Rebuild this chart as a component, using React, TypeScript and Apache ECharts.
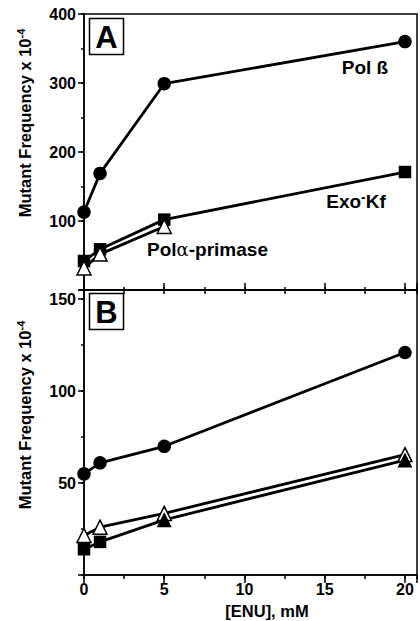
import React, { useEffect, useRef } from "react";
import * as echarts from "echarts";

// ---- Data ----
const doseMM = [0, 1, 5, 20];
const doseAlphaA = [0, 1, 5];

// Panel A
const panelA_PolBeta = [113, 169, 299, 360];
const panelA_ExoKf = [42, 59, 102, 171];
const panelA_PolAlpha = [32, 52, 92];

// Panel B
const panelB_PolBeta = [55, 61, 70, 121];
const panelB_OpenTri = [21.5, 26, 33.5, 65.5];
const panelB_Filled = [14, 18, 30, 62.5];
const panelB_FilledSymbols = ["rect", "rect", "triangle", "triangle"];

// Axis ticks
const xTicks = [0, 5, 10, 15, 20];
const yTicksA = [100, 200, 300, 400];
const yTicksB = [50, 100, 150];

const FONT = "Liberation Sans, Arial, Helvetica, sans-serif";

const pairs = (xs: number[], ys: number[]) => xs.map((x, i) => [x, ys[i]]);

export default function App() {
  const ref = useRef<HTMLDivElement>(null);

  useEffect(() => {
    if (!ref.current) return;
    const chart = echarts.init(ref.current, undefined, { renderer: "svg" });

    const lineW = 1.5;
    const labelStyle = {
      fontFamily: FONT,
      fontWeight: "bold" as const,
      fontSize: 16,
      color: "#000",
    };

    const xBase = (grid: number, position: string) => ({
      type: "value",
      gridIndex: grid,
      position,
      min: 0,
      max: 20.75,
      splitLine: { show: false },
      axisLine: { show: true, onZero: false, lineStyle: { color: "#000", width: lineW } },
    });
    const yBase = (grid: number, max: number) => ({
      type: "value",
      gridIndex: grid,
      position: "left",
      min: 0,
      max,
      splitLine: { show: false },
      axisLine: { show: true, onZero: false, lineStyle: { color: "#000", width: lineW } },
    });

    const seriesCommon = {
      type: "line",
      clip: false,
      lineStyle: { color: "#000", width: 2.8 },
      itemStyle: { color: "#000" },
      emphasis: { disabled: true },
    };

    const titleRich = {
      m: { fontFamily: FONT, fontWeight: "bold", fontSize: 16.5, lineHeight: 20, fill: "#000" },
      s: { fontFamily: FONT, fontWeight: "bold", fontSize: 11, verticalAlign: "top", lineHeight: 20, fill: "#000" },
    };

    const option: any = {
      animation: false,
      backgroundColor: "#fff",
      grid: [
        { left: 84, top: 14, width: 333, height: 276, show: true, borderColor: "#000", borderWidth: lineW, backgroundColor: "transparent" },
        { left: 84, top: 290, width: 333, height: 285, show: true, borderColor: "#000", borderWidth: lineW, backgroundColor: "transparent" },
      ],
      xAxis: [
        {
          ...xBase(0, "bottom"),
          interval: 5,
          axisTick: { show: true, inside: true, length: 7, lineStyle: { color: "#000", width: lineW } },
          axisLabel: { show: false },
        },
        {
          ...xBase(0, "bottom"),
          interval: 2.5,
          axisLine: { show: false, onZero: false },
          axisTick: { show: true, inside: true, length: 3, lineStyle: { color: "#000", width: lineW } },
          axisLabel: { show: false },
        },
        {
          ...xBase(1, "top"),
          interval: 2.5,
          axisTick: { show: true, inside: true, length: 4, lineStyle: { color: "#000", width: lineW } },
          axisLabel: { show: false },
        },
        {
          ...xBase(1, "bottom"),
          interval: 5,
          axisTick: { show: true, inside: false, length: 8, lineStyle: { color: "#000", width: lineW } },
          axisLabel: {
            ...labelStyle,
            margin: 6,
            formatter: (v: number) => (xTicks.includes(v) ? String(v) : ""),
          },
        },
        {
          ...xBase(1, "bottom"),
          interval: 2.5,
          axisLine: { show: false, onZero: false },
          axisTick: { show: true, inside: false, length: 4, lineStyle: { color: "#000", width: lineW } },
          axisLabel: { show: false },
        },
      ],
      yAxis: [
        {
          ...yBase(0, 400),
          interval: 100,
          axisTick: { show: true, inside: false, length: 6, lineStyle: { color: "#000", width: lineW } },
          axisLabel: {
            ...labelStyle,
            margin: 8,
            formatter: (v: number) => (yTicksA.includes(v) ? String(v) : ""),
          },
        },
        {
          ...yBase(0, 400),
          interval: 50,
          axisLine: { show: false, onZero: false },
          axisTick: { show: true, inside: false, length: 3, lineStyle: { color: "#000", width: lineW } },
          axisLabel: { show: false },
        },
        {
          ...yBase(1, 155),
          interval: 50,
          axisTick: { show: true, inside: false, length: 6, lineStyle: { color: "#000", width: lineW } },
          axisLabel: {
            ...labelStyle,
            margin: 8,
            formatter: (v: number) => (yTicksB.includes(v) ? String(v) : ""),
          },
        },
        {
          ...yBase(1, 155),
          interval: 25,
          axisLine: { show: false, onZero: false },
          axisTick: { show: true, inside: false, length: 3, lineStyle: { color: "#000", width: lineW } },
          axisLabel: { show: false },
        },
      ],
      series: [
        {
          ...seriesCommon,
          name: "Pol β A",
          xAxisIndex: 0,
          yAxisIndex: 0,
          symbol: "circle",
          symbolSize: 13.5,
          data: pairs(doseMM, panelA_PolBeta),
        },
        {
          ...seriesCommon,
          name: "Exo-Kf A",
          xAxisIndex: 0,
          yAxisIndex: 0,
          symbol: "rect",
          symbolSize: 12.5,
          data: pairs(doseMM, panelA_ExoKf),
        },
        {
          ...seriesCommon,
          name: "Pol alpha A",
          xAxisIndex: 0,
          yAxisIndex: 0,
          symbol: "triangle",
          symbolSize: 14,
          itemStyle: { color: "#fff", borderColor: "#000", borderWidth: 1.5 },
          data: pairs(doseAlphaA, panelA_PolAlpha),
        },
        {
          ...seriesCommon,
          name: "Pol β B",
          xAxisIndex: 3,
          yAxisIndex: 2,
          symbol: "circle",
          symbolSize: 13.5,
          data: pairs(doseMM, panelB_PolBeta),
        },
        {
          ...seriesCommon,
          name: "Open tri B",
          xAxisIndex: 3,
          yAxisIndex: 2,
          symbol: "triangle",
          symbolSize: 14,
          itemStyle: { color: "#fff", borderColor: "#000", borderWidth: 1.5 },
          data: pairs(doseMM, panelB_OpenTri),
        },
        {
          ...seriesCommon,
          name: "Filled B",
          xAxisIndex: 3,
          yAxisIndex: 2,
          symbolSize: 12.5,
          data: doseMM.map((x, i) => ({
            value: [x, panelB_Filled[i]],
            symbol: panelB_FilledSymbols[i],
            symbolSize: panelB_FilledSymbols[i] === "triangle" ? 15 : 12.5,
          })),
        },
      ],
      graphic: [
        {
          type: "text",
          x: 25,
          y: 123,
          rotation: Math.PI / 2,
          style: {
            text: "{m|Mutant Frequency x 10}{s|-4}",
            align: "center",
            verticalAlign: "middle",
            fill: "#000",
            rich: titleRich,
          },
        },
        {
          type: "text",
          x: 25,
          y: 415,
          rotation: Math.PI / 2,
          style: {
            text: "{m|Mutant Frequency x 10}{s|-4}",
            align: "center",
            verticalAlign: "middle",
            fill: "#000",
            rich: titleRich,
          },
        },
        {
          type: "text",
          x: 267,
          y: 611,
          style: {
            text: "[ENU], mM",
            align: "center",
            verticalAlign: "middle",
            fontFamily: FONT,
            fontWeight: "bold",
            fontSize: 16.5,
            fill: "#000",
          },
        },
        {
          type: "rect",
          shape: { x: 89.5, y: 18.5, width: 34, height: 36 },
          style: { fill: "#fff", stroke: "#000", lineWidth: 1.5 },
          z: 10,
        },
        {
          type: "text",
          x: 106.5,
          y: 37,
          z: 11,
          style: {
            text: "A",
            align: "center",
            verticalAlign: "middle",
            fontFamily: FONT,
            fontWeight: "bold",
            fontSize: 31,
            fill: "#000",
          },
        },
        {
          type: "rect",
          shape: { x: 89.5, y: 293.5, width: 34, height: 36 },
          style: { fill: "#fff", stroke: "#000", lineWidth: 1.5 },
          z: 10,
        },
        {
          type: "text",
          x: 106.5,
          y: 312,
          z: 11,
          style: {
            text: "B",
            align: "center",
            verticalAlign: "middle",
            fontFamily: FONT,
            fontWeight: "bold",
            fontSize: 31,
            fill: "#000",
          },
        },
        {
          type: "text",
          x: 365,
          y: 67,
          style: {
            text: "Pol ß",
            align: "center",
            verticalAlign: "middle",
            fontFamily: FONT,
            fontWeight: "bold",
            fontSize: 19,
            fill: "#000",
          },
        },
        {
          type: "text",
          x: 356,
          y: 201,
          style: {
            text: "{m|Exo}{s|-}{m|Kf}",
            align: "center",
            verticalAlign: "middle",
            fill: "#000",
            rich: {
              m: { fontFamily: FONT, fontWeight: "bold", fontSize: 19, lineHeight: 22, fill: "#000" },
              s: { fontFamily: FONT, fontWeight: "bold", fontSize: 14, verticalAlign: "top", lineHeight: 22, fill: "#000" },
            },
          },
        },
        {
          type: "text",
          x: 207.5,
          y: 249,
          style: {
            text: "{m|Pol}{g|α}{m|-primase}",
            align: "center",
            verticalAlign: "middle",
            fill: "#000",
            rich: {
              m: { fontFamily: FONT, fontWeight: "bold", fontSize: 19, lineHeight: 22, fill: "#000" },
              g: { fontFamily: "DejaVu Serif, serif", fontWeight: "normal", fontSize: 18, lineHeight: 22, fill: "#000" },
            },
          },
        },
      ],
    };

    chart.setOption(option);
    return () => chart.dispose();
  }, []);

  return (
    <div
      ref={ref}
      style={{ position: "fixed", left: 0, top: 0, width: 420, height: 621, background: "#fff" }}
    />
  );
}
